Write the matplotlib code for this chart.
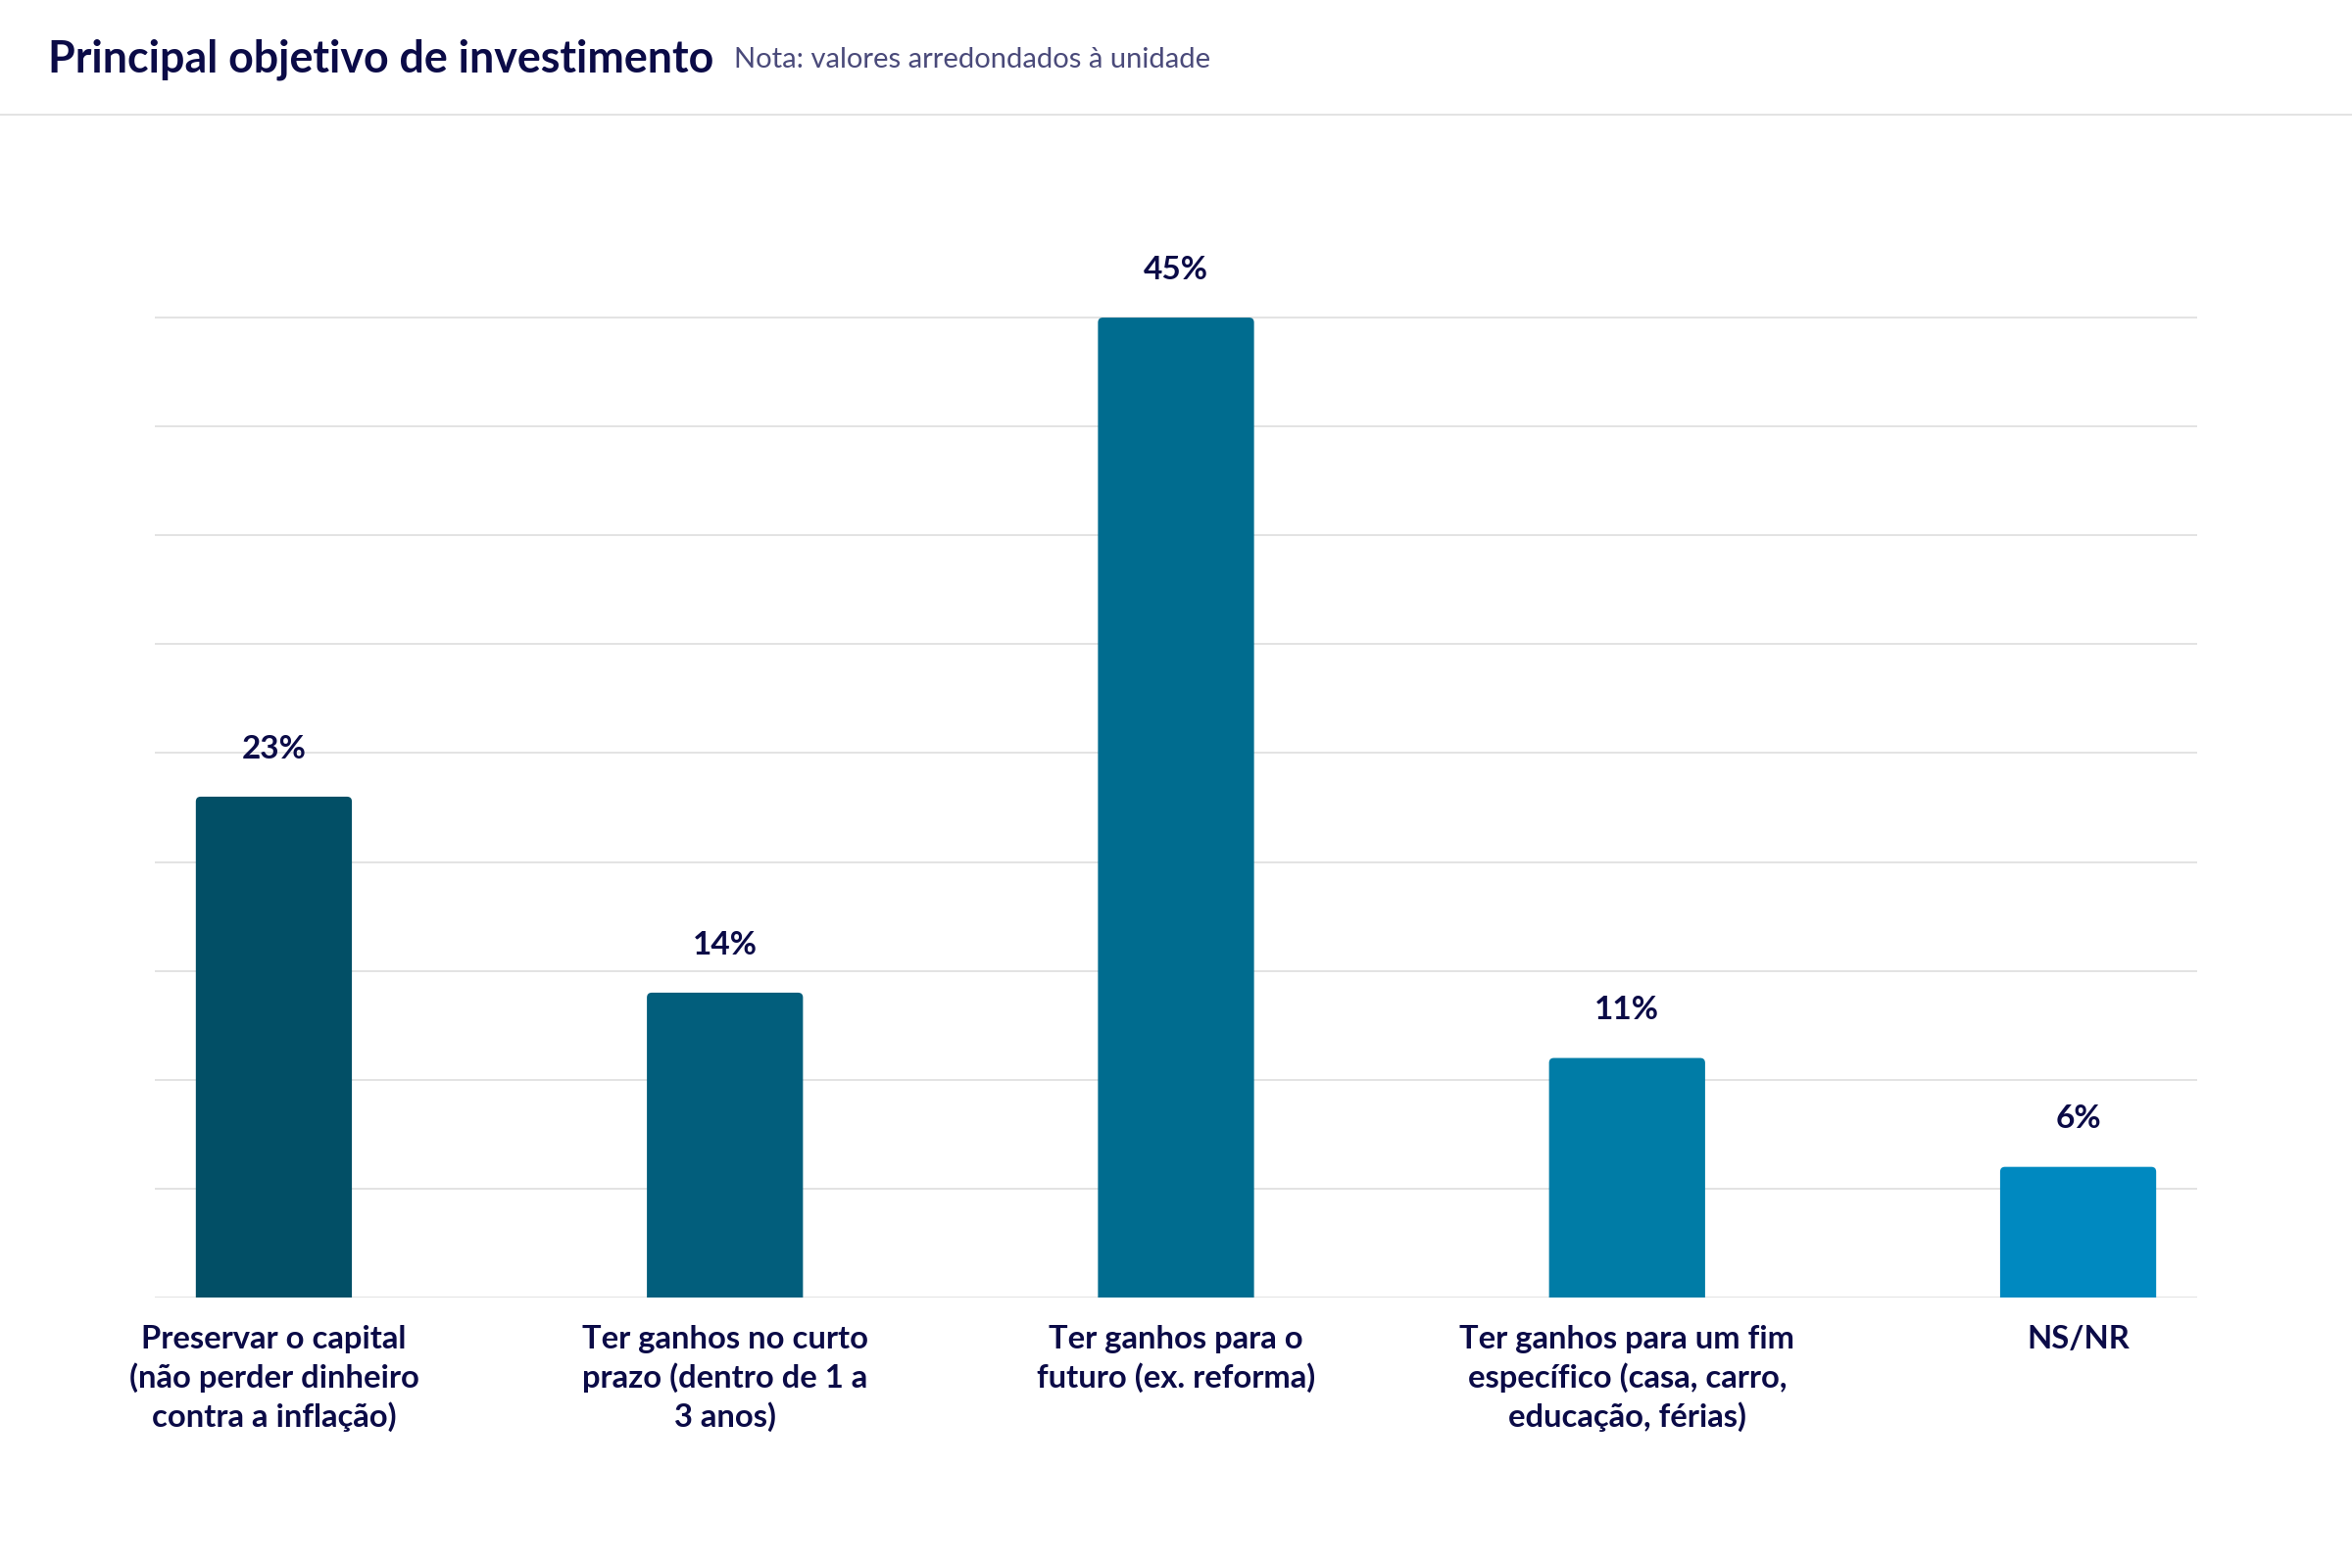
import matplotlib.pyplot as plt
from matplotlib.patches import FancyBboxPatch
from matplotlib.lines import Line2D

categories = [
    "Preservar o capital\n(não perder dinheiro\ncontra a inflação)",
    "Ter ganhos no curto\nprazo (dentro de 1 a\n3 anos)",
    "Ter ganhos para o\nfuturo (ex. reforma)",
    "Ter ganhos para um fim\nespecífico (casa, carro,\neducação, férias)",
    "NS/NR",
]
values = [23, 14, 45, 11, 6]
labels = ["23%", "14%", "45%", "11%", "6%"]
colors = ["#024F66", "#025E7C", "#006C8F", "#007CA6", "#0089C0"]

title = "Principal objetivo de investimento"
note = "Nota: valores arredondados à unidade"

navy = "#0B0B47"
grid_c = "#DEDEDE"

plt.rcParams['font.family'] = ['Lato', 'DejaVu Sans']

fig = plt.figure(figsize=(12, 8), dpi=200)
ax = fig.add_axes([0.066, 0.1725, 0.868, 0.6944])

x = list(range(len(values)))
bars = ax.bar(x, values, width=0.346, color=colors, zorder=2)

# rounded top corners
ax.set_xlim(-0.263, len(values) - 1 + 0.263)
ax.set_ylim(0, 50)
fig.canvas.draw()
px_x = ax.transData.transform((1, 0))[0] - ax.transData.transform((0, 0))[0]
px_y = ax.transData.transform((0, 1))[1] - ax.transData.transform((0, 0))[1]
r = 5.0 / px_x
for b in bars:
    bx, bw, bh = b.get_x(), b.get_width(), b.get_height()
    p = FancyBboxPatch((bx, -3), bw, bh + 3,
                       boxstyle="round,pad=0,rounding_size=%f" % r,
                       mutation_aspect=px_x / px_y,
                       facecolor=b.get_facecolor(), edgecolor="none", zorder=2)
    ax.add_patch(p)
    b.remove()

for xi, v, lab in zip(x, values, labels):
    ax.text(xi, v + 2.2, lab, ha="center", va="center", fontsize=12,
            fontweight="bold", color=navy)

ax.set_yticks(range(0, 50, 5))
ax.yaxis.grid(True, color=grid_c, linewidth=0.6, zorder=0)
ax.set_axisbelow(True)
ax.tick_params(axis="y", length=0, labelleft=False)
ax.tick_params(axis="x", length=0, pad=10)
ax.set_xticks(x)
ax.set_xticklabels(categories, fontsize=11.8, fontweight="bold", color=navy,
                   linespacing=1.37, va="top")
for s in ax.spines.values():
    s.set_visible(False)

fig.text(0.0205, 0.962, title, fontsize=16.1, fontweight="bold", color=navy,
         va="center", ha="left")
fig.text(0.312, 0.962, note, fontsize=10.5, color="#4A4A7A", va="center", ha="left")
fig.add_artist(Line2D([0, 1], [0.927, 0.927], color=grid_c, linewidth=0.6,
                      transform=fig.transFigure))

fig.savefig("out.png", dpi=200, facecolor="white")
